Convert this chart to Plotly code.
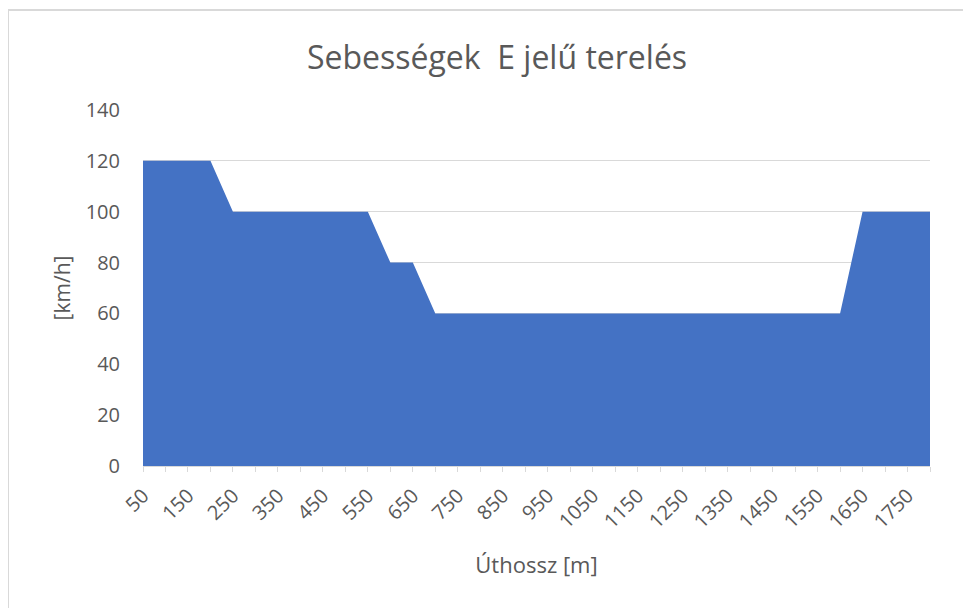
import plotly.graph_objects as go

distance_m = [50, 100, 150, 200, 250, 300, 350, 400, 450, 500, 550, 600, 650, 700,
              750, 800, 850, 900, 950, 1000, 1050, 1100, 1150, 1200, 1250, 1300,
              1350, 1400, 1450, 1500, 1550, 1600, 1650, 1700, 1750, 1800]
speed_kmh = [120, 120, 120, 120, 100, 100, 100, 100, 100, 100, 100, 80, 80, 60,
             60, 60, 60, 60, 60, 60, 60, 60, 60, 60, 60, 60,
             60, 60, 60, 60, 60, 60, 100, 100, 100, 100]
x_tick_labels = [str(v) for v in range(50, 1800, 100)]
y_ticks = [0, 20, 40, 60, 80, 100, 120, 140]

FONT = "'Open Sans', sans-serif"
GREY = "#595959"
LINE = "#d9d9d9"

# page body has an 8px offset: plot area in page coords 143..930 x 110..466
L, T, W, H = 135, 102, 787, 356

fig = go.Figure()
fig.add_trace(go.Scatter(
    x=distance_m, y=speed_kmh, mode="lines", fill="tozeroy",
    fillcolor="#4472C4", line=dict(width=0, color="#4472C4"),
    hoverinfo="x+y", showlegend=False,
))

fig.update_layout(
    width=971, height=608,
    margin=dict(l=L, r=971 - L - W, t=T, b=608 - T - H),
    paper_bgcolor="white", plot_bgcolor="white",
    title=dict(text="Sebességek  E jelű terelés", x=(497 - 8 - L) / W, xanchor="center",
               xref="paper", y=1 - (58 - 8) / 608, yanchor="middle",
               font=dict(family=FONT, size=32, color=GREY)),
    xaxis=dict(
        range=[50, 1800], tickmode="array",
        tickvals=[int(v) for v in x_tick_labels], ticktext=x_tick_labels,
        tickangle=-45, ticks="outside", ticklen=5, tickcolor=LINE,
        ticklabelstandoff=4,
        minor=dict(ticks="outside", dtick=50, tick0=50, ticklen=5, tickcolor=LINE),
        showgrid=False, zeroline=False, showline=True, linecolor=LINE, linewidth=1,
        tickfont=dict(family=FONT, size=20, color=GREY),
        title=dict(text="Úthossz [m]", standoff=24,
                   font=dict(family=FONT, size=22, color=GREY)),
    ),
    yaxis=dict(
        range=[0, 140], tickvals=y_ticks, showgrid=True, gridcolor=LINE, gridwidth=1,
        zeroline=False, showline=False, ticks="",
        tickfont=dict(family=FONT, size=20, color=GREY),
        ticklabelstandoff=22,
        title=dict(text="[km/h]", standoff=9,
                   font=dict(family=FONT, size=21, color=GREY)),
    ),
    shapes=[dict(type="rect", xref="paper", yref="paper",
                 x0=(0 - L) / W, x1=(990 - L) / W,
                 y0=(T + H - 640) / H, y1=(T + H - 2) / H,
                 line=dict(color=LINE, width=2), fillcolor="rgba(0,0,0,0)",
                 layer="below")],
)

fig.write_html("out.html")
